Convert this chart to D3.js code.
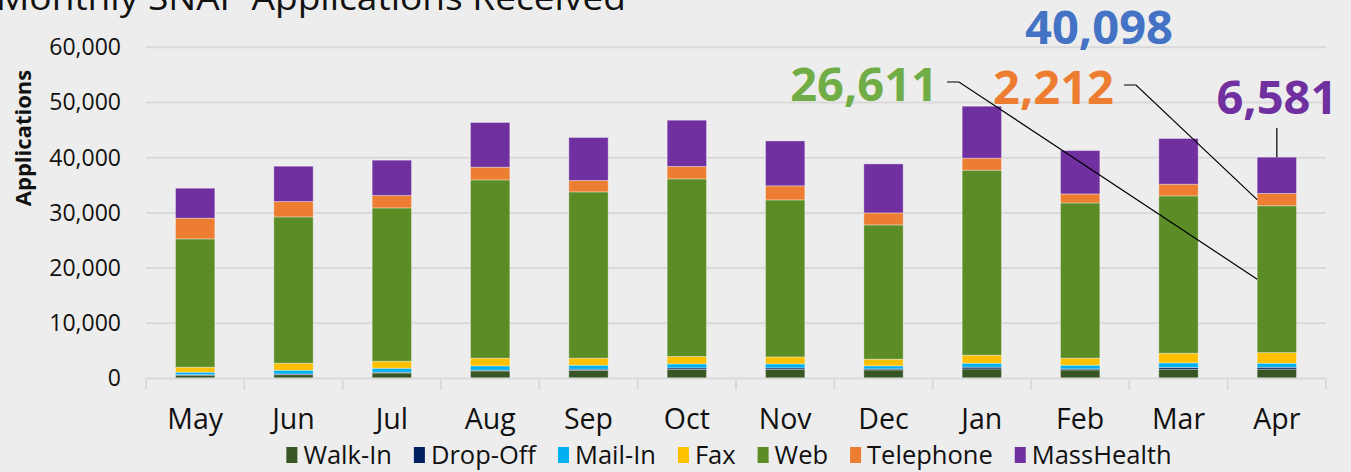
<!DOCTYPE html>
<html lang="en">
<head>
<meta charset="UTF-8">
<title>Monthly SNAP Applications Received</title>
<script src="https://cdnjs.cloudflare.com/ajax/libs/d3/7.9.0/d3.min.js"></script>
<style>
  body { margin: 0; background: #ededed; }
  svg { display: block; font-family: "Open Sans", sans-serif; }
</style>
</head>
<body>
<svg id="chart" width="1351" height="472"></svg>
<script>
// values
const months = ['May', 'Jun', 'Jul', 'Aug', 'Sep', 'Oct', 'Nov', 'Dec', 'Jan', 'Feb', 'Mar', 'Apr'];
const seriesNames = ['Walk-In', 'Drop-Off', 'Mail-In', 'Fax', 'Web', 'Telephone', 'MassHealth'];
const walkIn = [600, 700, 1000, 1380, 1450, 1630, 1630, 1560, 1740, 1560, 1680, 1700];
const dropOff = [100, 120, 130, 120, 230, 290, 290, 180, 310, 180, 310, 330];
const mailIn = [450, 680, 730, 790, 730, 730, 730, 550, 720, 670, 840, 740];
const fax = [900, 1270, 1270, 1390, 1270, 1340, 1260, 1210, 1450, 1270, 1750, 1924];
const web = [23240, 26510, 27780, 32300, 30130, 32170, 28450, 24330, 33520, 28130, 28500, 26611];
const telephone = [3750, 2780, 2240, 2300, 2060, 2240, 2540, 2170, 2170, 1630, 2120, 2212];
const massHealth = [5435, 6400, 6400, 8100, 7790, 8390, 8140, 8880, 9420, 7860, 8280, 6581];
const yTicks = [0, 10000, 20000, 30000, 40000, 50000, 60000];

const colors = ['#375623', '#002060', '#00b0f0', '#ffc000', '#5b8c26', '#ed7d31', '#7030a0'];
const allSeries = [walkIn, dropOff, mailIn, fax, web, telephone, massHealth];

const rows = months.map((m, i) => {
    const r = { month: m };
    seriesNames.forEach((s, k) => r[s] = allSeries[k][i]);
    return r;
});
const stacked = d3.stack().keys(seriesNames)(rows);

const svg = d3.select('#chart');
const x = d3.scaleBand().domain(months).range([146, 1326]).paddingInner(0.6).paddingOuter(0.3);
const y = d3.scaleLinear().domain([0, 60000]).range([378.5, 47.3]);
const fmt = d3.format(',');

// title (cut off at top in the original)
svg.append('text')
    .attr('x', -4).attr('y', 10)
    .attr('textLength', 630).attr('lengthAdjust', 'spacingAndGlyphs')
    .style('font-size', '34px').attr('fill', '#111')
    .text('Monthly SNAP Applications Received');

// gridlines
svg.append('g').selectAll('line').data(yTicks.slice(1)).join('line')
    .attr('x1', 146).attr('x2', 1326)
    .attr('y1', d => y(d)).attr('y2', d => y(d))
    .attr('stroke', '#d9d9d9').attr('stroke-width', 2);

// y axis labels
const yAxis = svg.append('g').attr('transform', 'translate(121,0)')
    .call(d3.axisLeft(y).tickValues(yTicks).tickFormat(fmt).tickSize(0).tickPadding(0));
yAxis.select('.domain').remove();
yAxis.selectAll('text').style('font-size', '23px').style('font-family', '"Open Sans", sans-serif').attr('fill', '#111');

svg.append('text')
    .attr('transform', 'translate(25,138) rotate(-90)')
    .attr('text-anchor', 'middle').attr('dominant-baseline', 'middle')
    .style('font-size', '22px').style('font-weight', 'bold').attr('fill', '#111')
    .text('Applications');

// bars
svg.append('g').selectAll('g').data(stacked).join('g')
    .attr('fill', (d, i) => colors[i])
    .selectAll('rect').data(d => d).join('rect')
    .attr('x', d => x(d.data.month))
    .attr('width', x.bandwidth())
    .attr('y', d => y(d[1]))
    .attr('height', d => y(d[0]) - y(d[1]))
    .attr('stroke', 'rgba(255,255,255,0.35)').attr('stroke-width', 1);

// x axis
const xAxis = svg.append('g').attr('transform', 'translate(0,' + y(0) + ')');
xAxis.append('line').attr('x1', 146).attr('x2', 1326).attr('stroke', '#d9d9d9').attr('stroke-width', 2);
const edges = months.map(m => x(m) - x.step() * x.paddingInner() / 2).concat([1326]);
edges[0] = 146;
xAxis.selectAll('.tk').data(edges).join('line').attr('class', 'tk')
    .attr('x1', d => d).attr('x2', d => d).attr('y1', 0).attr('y2', 11)
    .attr('stroke', '#d9d9d9').attr('stroke-width', 2);
xAxis.selectAll('.lbl').data(months).join('text').attr('class', 'lbl')
    .attr('x', d => x(d) + x.bandwidth() / 2).attr('y', 50)
    .attr('text-anchor', 'middle').style('font-size', '28.5px').attr('fill', '#111')
    .text(d => d);

// legend
const legend = svg.append('g');
let lx = 0;
seriesNames.forEach((s, i) => {
    const g = legend.append('g').attr('transform', 'translate(' + lx + ',0)');
    g.append('rect').attr('x', 0).attr('y', 447).attr('width', 11).attr('height', 16).attr('fill', colors[i]);
    const t = g.append('text').attr('x', 17).attr('y', 464).style('font-size', '25.5px').attr('fill', '#111').text(s);
    lx += 17 + t.node().getComputedTextLength() + 22;
});
lx -= 22;
legend.attr('transform', 'translate(' + (729 - lx / 2) + ',0)');

// callouts on the last month
const last = months.length - 1;
const lastM = months[last];
const barL = x(lastM), barC = x(lastM) + x.bandwidth() / 2;
const total = d3.sum(allSeries, s => s[last]);
const webMid = (stacked[4][last][0] + stacked[4][last][1]) / 2;
const telMid = (stacked[5][last][0] + stacked[5][last][1]) / 2;

const callout = svg.append('g').style('font-weight', 'bold').style('font-size', '47px');
callout.append('text').attr('x', 1099).attr('y', 44).attr('text-anchor', 'middle').attr('fill', '#4472c4').text(fmt(total));
callout.append('text').attr('x', 938).attr('y', 101).attr('text-anchor', 'end').attr('fill', '#70ad47').text(fmt(web[last]));
callout.append('text').attr('x', 1114).attr('y', 104).attr('text-anchor', 'end').attr('fill', '#ed7d31').text(fmt(telephone[last]));
callout.append('text').attr('x', barC).attr('y', 114).attr('text-anchor', 'middle').attr('fill', '#7030a0').text(fmt(massHealth[last]));

const leaders = [
    [[947, 82], [959, 82], [barL, y(webMid)]],
    [[1124, 85], [1136, 85], [barL, y(telMid)]],
    [[barC, 128], [barC, y(total)]]
];
svg.append('g').selectAll('path').data(leaders).join('path')
    .attr('d', d => d3.line()(d))
    .attr('fill', 'none').attr('stroke', '#000').attr('stroke-width', 1.2);
</script>
</body>
</html>
